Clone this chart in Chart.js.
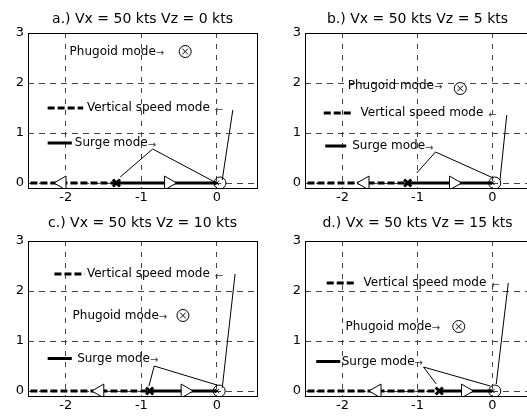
<!DOCTYPE html>
<html>
<head>
<meta charset="utf-8">
<script src="https://cdn.jsdelivr.net/npm/chart.js@4/dist/chart.umd.min.js"></script>
<style>
html, body { margin: 0; padding: 0; background: #fff; overflow: hidden; width: 527px; height: 418px; position: relative; }
canvas { position: absolute; }
</style>
</head>
<body>
<canvas id="c0" width="262" height="212" style="left:0;top:0"></canvas>
<canvas id="c1" width="258" height="212" style="left:277px;top:0"></canvas>
<canvas id="c2" width="262" height="212" style="left:0;top:208px"></canvas>
<canvas id="c3" width="258" height="212" style="left:277px;top:208px"></canvas>
<script>
// one entry per panel: a, b, c, d
const titles = ['a.) Vx = 50 kts Vz = 0 kts', 'b.) Vx = 50 kts Vz = 5 kts',
                'c.) Vx = 50 kts Vz = 10 kts', 'd.) Vx = 50 kts Vz = 15 kts'];
const xTicks = [-2, -1, 0];
const yTicks = [0, 1, 2, 3];

const surgePoleX = [-1.33, -1.13, -0.89, -0.71];   // the bold x on the real axis
const leftArrowX = [-2.05, -1.70, -1.55, -1.54];   // open triangle on dashed locus
const rightArrowX = [-0.64, -0.52, -0.42, -0.36];  // open triangle on solid locus
const originX = [0.04, 0.03, 0.03, 0.03];
const phugoidX = [-0.42, -0.43, -0.45, -0.45];
const phugoidY = [2.63, 1.89, 1.51, 1.29];

// legend samples [x0, x1, y]
const vsLegend = [[-2.24, -1.77, 1.5], [-2.25, -1.85, 1.4], [-2.15, -1.75, 2.34], [-2.21, -1.81, 2.16]];
const surgeLegend = [[-2.24, -1.92, 0.8], [-2.23, -1.95, 0.74], [-2.24, -1.92, 0.65], [-2.35, -2.03, 0.59]];
// text starts
const vsTextX = [-1.72, -1.76, -1.72, -1.72];
const surgeTextX = [-1.88, -1.87, -1.85, -2.01];
const phugoidText = [[-1.95, 2.63], [-1.93, 1.95], [-1.91, 1.51], [-1.96, 1.29]];

// leader lines
const vsLeader = [[0.21, 1.46, 0.07, 0.06], [0.19, 1.36, 0.10, 0.06], [0.24, 2.34, 0.07, 0.06], [0.21, 2.16, 0.05, 0.14]];
// [xToPole, yToPole, xStart, yStart, xToOrigin, yToOrigin]
const surgeLeader = [[-1.28, 0.12, -0.85, 0.68, -0.03, 0.02], [-1.01, 0.2, -0.76, 0.62, 0.01, 0.1],
                     [-0.9, 0.1, -0.83, 0.5, 0, 0.12], [-0.75, 0.14, -0.92, 0.48, -0.03, 0.1]];

const xMin = [-2.5, -2.5, -2.5, -2.5];
const xMax = [0.53, 0.5, 0.53, 0.5];

Chart.defaults.font.family = '"DejaVu Sans", sans-serif';
Chart.defaults.color = '#000';
Chart.defaults.animation = false;

function pt(x, y) { return { x: x, y: y }; }

// panel title, box and the text notes
const panelPlugin = {
    id: 'panel',
    // the plot box is pinned to fixed pixel edges (matches the source figure)
    afterLayout(chart, args, opts) {
        const a = chart.chartArea;
        a.left = 28;
        a.right = chart.width - 5;
        a.top = 33;
        a.bottom = chart.height - 24;
        a.width = a.right - a.left;
        a.height = a.bottom - a.top;
        const xs = chart.scales.x, ys = chart.scales.y;
        xs.left = a.left; xs.right = a.right; xs.width = a.width;
        xs.top = a.bottom; xs.bottom = chart.height;
        ys.top = a.top; ys.bottom = a.bottom; ys.height = a.height;
        ys.left = 0; ys.right = a.left;
        xs.configure();
        ys.configure();
    },
    afterDatasetsDraw(chart, args, opts) {
        const ctx = chart.ctx, xs = chart.scales.x, ys = chart.scales.y;
        const i = opts.index;
        const put = (txt, x, y, arrow, gap) => {
            const px = xs.getPixelForValue(x), py = ys.getPixelForValue(y);
            ctx.font = '12px "DejaVu Sans"';
            ctx.fillStyle = '#000';
            ctx.fillText(txt, px, py);
            const w = ctx.measureText(txt).width;
            ctx.font = '10px "DejaVu Sans"';
            ctx.fillStyle = '#333';
            ctx.fillText(arrow, px + w + gap, py + 2);
        };
        ctx.save();
        ctx.textBaseline = 'middle';
        ctx.textAlign = 'left';
        put('Phugoid mode', phugoidText[i][0], phugoidText[i][1], '→', 0);
        put('Vertical speed mode', vsTextX[i], vsLegend[i][2], '←', 5);
        put('Surge mode', surgeTextX[i], surgeLegend[i][2], '→', 0);
        ctx.restore();
    },
    afterDraw(chart, args, opts) {
        const ctx = chart.ctx, a = chart.chartArea;
        ctx.save();
        ctx.strokeStyle = '#000';
        ctx.lineWidth = 1;
        ctx.strokeRect(a.left + 0.5, a.top + 0.5, a.right - a.left, a.bottom - a.top);
        ctx.font = '14px "DejaVu Sans"';
        ctx.fillStyle = '#000';
        ctx.textAlign = 'center';
        ctx.textBaseline = 'alphabetic';
        ctx.fillText(titles[opts.index], (a.left + a.right) / 2, a.top - opts.titleGap);
        ctx.restore();
    }
};

function lineSet(data, width, dash) {
    return {
        data: data, showLine: true, borderColor: '#000', borderWidth: width,
        borderDash: dash || [], pointRadius: 0, fill: false
    };
}

function markSet(data, style, radius, width, rotation, bg) {
    return {
        data: data, showLine: false, pointStyle: style, pointRadius: radius,
        pointBorderWidth: width, pointBorderColor: '#000', rotation: rotation || 0,
        pointBackgroundColor: bg || 'rgba(0,0,0,0)'
    };
}

function makeChart(i) {
    const sl = surgeLeader[i];
    const datasets = [
        // markers first so they sit on top
        markSet([pt(phugoidX[i], phugoidY[i])], 'crossRot', 4, 1),
        markSet([pt(phugoidX[i], phugoidY[i])], 'circle', 6, 1, 0, '#fff'),
        markSet([pt(0, 0)], 'crossRot', 3, 1),
        markSet([pt(originX[i], 0)], 'circle', 6, 1),
        markSet([pt(surgePoleX[i], 0)], 'crossRot', 5, 3),
        markSet([pt(leftArrowX[i], 0)], 'triangle', 8, 1, -90, '#fff'),
        markSet([pt(rightArrowX[i], 0)], 'triangle', 8, 1, 90, '#fff'),
        // leaders
        lineSet([pt(vsLeader[i][0], vsLeader[i][1]), pt(vsLeader[i][2], vsLeader[i][3])], 1),
        lineSet([pt(sl[0], sl[1]), pt(sl[2], sl[3]), pt(sl[4], sl[5])], 1),
        // legend samples
        lineSet([pt(vsLegend[i][0], vsLegend[i][2]), pt(vsLegend[i][1], vsLegend[i][2])], 3, [7, 3]),
        lineSet([pt(surgeLegend[i][0], surgeLegend[i][2]), pt(surgeLegend[i][1], surgeLegend[i][2])], 3),
        // root loci along the real axis
        lineSet([pt(surgePoleX[i], 0), pt(0, 0)], 3),
        lineSet([pt(-2.6, 0), pt(surgePoleX[i], 0)], 3, [7, 3])
    ];

    return new Chart(document.getElementById('c' + i), {
        type: 'scatter',
        data: { datasets: datasets },
        options: {
            responsive: false,
            layout: { padding: { top: 33, right: 5, left: 0, bottom: 0 } },
            scales: {
                x: {
                    type: 'linear', min: xMin[i], max: xMax[i], bounds: 'data',
                    afterBuildTicks: s => { s.ticks = xTicks.map(v => ({ value: v })); },
                    afterFit: s => { s.height = 24; s.paddingLeft = 0; s.paddingRight = 0; },
                    ticks: { font: { size: 13 }, padding: 2, color: '#000' },
                    grid: { color: '#444', lineWidth: 1, drawTicks: false },
                    border: { display: false, dash: [5, 6] }
                },
                y: {
                    type: 'linear', min: -0.1, max: 3, bounds: 'data',
                    afterBuildTicks: s => { s.ticks = yTicks.map(v => ({ value: v })); },
                    afterFit: s => { s.width = 28; s.paddingTop = 0; s.paddingBottom = 0; },
                    ticks: { font: { size: 13 }, padding: 4, color: '#000' },
                    grid: { color: '#444', lineWidth: 1, drawTicks: false },
                    border: { display: false, dash: [6, 5] }
                }
            },
            plugins: {
                legend: { display: false },
                tooltip: { enabled: false },
                panel: { index: i, titleGap: i < 2 ? 10 : 14 }
            }
        },
        plugins: [panelPlugin]
    });
}

for (let i = 0; i < 4; i++) makeChart(i);
</script>
</body>
</html>
